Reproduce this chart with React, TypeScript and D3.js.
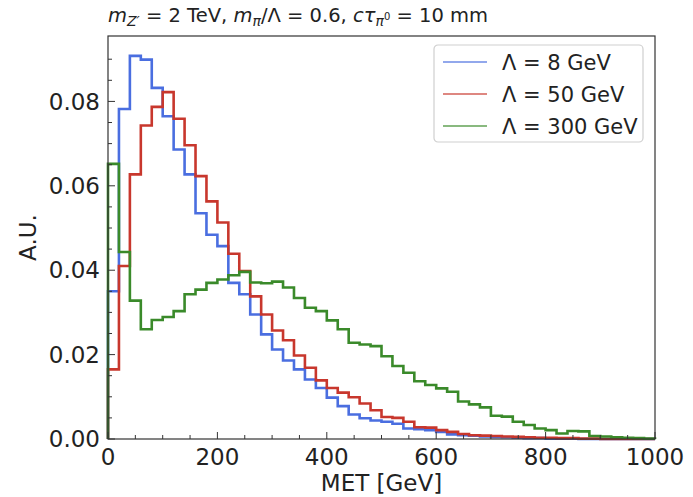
import React, { useEffect, useRef } from 'react';
import * as d3 from 'd3';

// bin edges: 50 bins of 20 GeV from 0 to 1000
const binWidth = 20;
const nBins = 50;

const lambda8 = [
  0.0350, 0.0782, 0.0908, 0.0899, 0.0832, 0.0765, 0.0686, 0.0627, 0.0535, 0.0484,
  0.0457, 0.0370, 0.0343, 0.0295, 0.0248, 0.0212, 0.0186, 0.0165, 0.0141, 0.0121,
  0.0098, 0.0078, 0.0058, 0.0049, 0.0044, 0.0041, 0.0036, 0.0025, 0.0023, 0.0021,
  0.0017, 0.0011, 0.0009, 0.0008, 0.0006, 0.0005, 0.0004, 0.0003, 0.0002, 0.0002,
  0.0001, 0.0001, 0.0001, 0.0, 0.0, 0.0, 0.0, 0.0, 0.0, 0.0,
];

const lambda50 = [
  0.0165, 0.0410, 0.0627, 0.0743, 0.0787, 0.0822, 0.0759, 0.0696, 0.0623, 0.0563,
  0.0513, 0.0439, 0.0398, 0.0338, 0.0295, 0.0257, 0.0234, 0.0198, 0.0169, 0.0139,
  0.0121, 0.0110, 0.0099, 0.0084, 0.0068, 0.0052, 0.0050, 0.0041, 0.0028, 0.0027,
  0.0021, 0.0017, 0.0012, 0.0009, 0.0008, 0.0007, 0.0006, 0.0005, 0.0004, 0.0003,
  0.0003, 0.0002, 0.0002, 0.0001, 0.0001, 0.0, 0.0, 0.0, 0.0, 0.0,
];

const lambda300 = [
  0.0652, 0.0443, 0.0328, 0.0260, 0.0282, 0.0289, 0.0303, 0.0343, 0.0354, 0.0370,
  0.0378, 0.0388, 0.0396, 0.0371, 0.0369, 0.0373, 0.0359, 0.0334, 0.0311, 0.0303,
  0.0281, 0.0260, 0.0228, 0.0224, 0.0220, 0.0196, 0.0173, 0.0157, 0.0137, 0.0128,
  0.0120, 0.0112, 0.0089, 0.0082, 0.0075, 0.0055, 0.0053, 0.0041, 0.0033, 0.0025,
  0.0021, 0.0013, 0.0019, 0.0018, 0.0007, 0.0006, 0.0004, 0.0003, 0.0002, 0.0001,
];

const seriesNames = ['8', '50', '300'];
const seriesColors = ['#4a6ee0', '#c8372d', '#3a8a2a'];
const seriesValues = [lambda8, lambda50, lambda300];

const xTicks = [0, 200, 400, 600, 800, 1000];
const yTicks = [0.0, 0.02, 0.04, 0.06, 0.08];

const App = () => {
  const ref = useRef<SVGSVGElement | null>(null);

  useEffect(() => {
    const svg = d3.select(ref.current);
    svg.selectAll('*').remove();

    const margin = { top: 36, right: 38, bottom: 58, left: 108 };
    const width = 693 - margin.left - margin.right;
    const height = 497 - margin.top - margin.bottom;
    const font = 'DejaVu Sans, sans-serif';

    const x = d3.scaleLinear().domain([0, 1000]).range([0, width]);
    const y = d3.scaleLinear().domain([0, 0.0955]).range([height, 0]);

    const g = svg.append('g').attr('transform', `translate(${margin.left},${margin.top})`);

    // histogram outlines (matplotlib step style)
    const line = d3.line<[number, number]>()
      .x(d => x(d[0]))
      .y(d => y(d[1]))
      .curve(d3.curveStepAfter);

    seriesValues.forEach((vals, i) => {
      const pts: [number, number][] = [[0, 0]];
      vals.forEach((v, k) => pts.push([k * binWidth, v]));
      pts.push([nBins * binWidth, 0]);
      g.append('path')
        .attr('d', line(pts))
        .attr('fill', 'none')
        .attr('stroke', seriesColors[i])
        .attr('stroke-width', 2.6)
        .attr('stroke-linejoin', 'miter');
    });

    // frame
    g.append('rect')
      .attr('width', width)
      .attr('height', height)
      .attr('fill', 'none')
      .attr('stroke', '#333')
      .attr('stroke-width', 1.2);

    // x ticks (inward)
    d3.range(0, 1001, 50).forEach(t => {
      const major = t % 200 === 0;
      g.append('line')
        .attr('x1', x(t)).attr('x2', x(t))
        .attr('y1', height).attr('y2', height - (major ? 7 : 4))
        .attr('stroke', '#333').attr('stroke-width', 1);
    });
    xTicks.forEach(t => {
      g.append('text')
        .attr('x', x(t)).attr('y', height + 26)
        .attr('text-anchor', 'middle')
        .attr('font-family', font).attr('font-size', 23)
        .attr('fill', '#222')
        .text(t);
    });

    // y ticks (inward)
    d3.range(0, 19).map(k => k * 0.005).forEach((t, k) => {
      const major = k % 4 === 0;
      g.append('line')
        .attr('x1', 0).attr('x2', major ? 7 : 4)
        .attr('y1', y(t)).attr('y2', y(t))
        .attr('stroke', '#333').attr('stroke-width', 1);
    });
    yTicks.forEach(t => {
      g.append('text')
        .attr('x', -8).attr('y', y(t))
        .attr('dy', '0.36em')
        .attr('text-anchor', 'end')
        .attr('font-family', font).attr('font-size', 23)
        .attr('fill', '#222')
        .text(d3.format('.2f')(t));
    });

    // axis labels
    svg.append('text')
      .attr('x', margin.left + width / 2).attr('y', 491)
      .attr('text-anchor', 'middle')
      .attr('font-family', font).attr('font-size', 23)
      .attr('fill', '#222')
      .text('MET [GeV]');

    svg.append('text')
      .attr('transform', `translate(36,${margin.top + height / 2}) rotate(-90)`)
      .attr('text-anchor', 'middle')
      .attr('font-family', font).attr('font-size', 23)
      .attr('fill', '#222')
      .text('A.U.');

    // title
    const title = svg.append('text')
      .attr('x', margin.left).attr('y', 22)
      .attr('font-family', font).attr('font-size', 19.5)
      .attr('fill', '#222');
    title.append('tspan').attr('font-style', 'italic').text('m');
    title.append('tspan').attr('font-style', 'italic').attr('font-size', 14).attr('dy', 4).text('Z′');
    title.append('tspan').attr('dy', -4).text(' = 2 TeV, ');
    title.append('tspan').attr('font-style', 'italic').text('m');
    title.append('tspan').attr('font-style', 'italic').attr('font-size', 14).attr('dy', 4).text('π');
    title.append('tspan').attr('dy', -4).text('/Λ = 0.6, ');
    title.append('tspan').attr('font-style', 'italic').text('cτ');
    title.append('tspan').attr('font-style', 'italic').attr('font-size', 14).attr('dy', 4).text('π');
    title.append('tspan').attr('font-size', 10).attr('dy', -6).text('0');
    title.append('tspan').attr('dy', 2).text(' = 10 mm');

    // legend
    const lg = svg.append('g').attr('transform', 'translate(434,45)');
    lg.append('rect')
      .attr('width', 209).attr('height', 97)
      .attr('rx', 4)
      .attr('fill', 'white').attr('fill-opacity', 0.8)
      .attr('stroke', '#cfcfcf').attr('stroke-width', 1.2);
    seriesNames.forEach((name, i) => {
      const yy = 17 + i * 32;
      lg.append('line')
        .attr('x1', 9).attr('x2', 53)
        .attr('y1', yy).attr('y2', yy)
        .attr('stroke', seriesColors[i])
        .attr('stroke-opacity', 0.6)
        .attr('stroke-width', 1.8);
      lg.append('text')
        .attr('x', 68).attr('y', yy)
        .attr('dy', '0.36em')
        .attr('font-family', font).attr('font-size', 21)
        .attr('fill', '#222')
        .text(`Λ = ${name} GeV`);
    });
  }, []);

  return <svg ref={ref} width={693} height={497} style={{ position: 'absolute', left: 0, top: 0 }} />;
};

export default App;
